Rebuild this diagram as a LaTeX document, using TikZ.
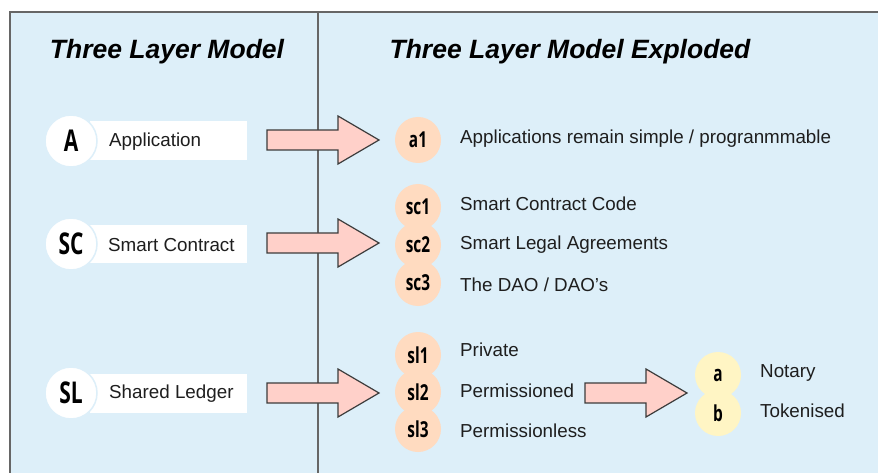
\documentclass[tikz,border=0pt]{standalone}
\usepackage{fontspec}
\setmainfont{Liberation Sans}
\newfontfamily\condfont[FakeStretch=0.7]{Open Sans}
\definecolor{panel}{HTML}{DDEFF9}
\definecolor{framegray}{HTML}{666666}
\definecolor{peach}{HTML}{FFDBC0}
\definecolor{paleyellow}{HTML}{FFF5C4}
\definecolor{arrowfill}{HTML}{FFD0C9}
\definecolor{arrowline}{HTML}{3C3C3C}
\definecolor{txt}{HTML}{1E1E1E}
\begin{document}
\begin{tikzpicture}[x=1pt,y=-1pt,
  title/.style={font=\fontsize{26.5}{30}\selectfont\bfseries\itshape, text=black, inner sep=0},
  bigcirc/.style={circle, fill=white, draw=panel, line width=1.5pt, minimum size=52, inner sep=0,
    font=\condfont\bfseries\fontsize{30}{32}\selectfont},
  labeltext/.style={anchor=west, inner sep=0, font=\fontsize{18.8}{22}\selectfont, text=txt},
  smallcirc/.style={circle, fill=peach, minimum size=46, inner sep=0,
    font=\condfont\bfseries\fontsize{22}{24}\selectfont},
  ycirc/.style={smallcirc, fill=paleyellow},
  blockarrow/.style={fill=arrowfill, draw=arrowline, line width=1.2pt, line join=miter}
]
\useasboundingbox (0,0) rectangle (878,473);
\clip (0,0) rectangle (878,473);
\fill[white] (0,0) rectangle (878,473);
\filldraw[fill=panel, draw=framegray, line width=2pt] (10,12) rectangle (900,500);
\draw[framegray, line width=2pt] (318,12) -- (318,500);

% titles
\node[title] (t1) at (167,52) {Three Layer Model};
\node[title] (t2) at (570,52) {Three Layer Model Exploded};

% left column
\fill[white] (90,121) rectangle (247,160);
\fill[white] (90,225) rectangle (247,263);
\fill[white] (90,374) rectangle (247,413);
\node[bigcirc] (A) at (71,141) {A};
\node[bigcirc] (SC) at (71,244) {SC};
\node[bigcirc] (SL) at (71,393) {SL};
\node[labeltext] (Atext) at (109,142) {Application};
\node[labeltext] (SCtext) at (108,245) {Smart Contract};
\node[labeltext] (SLtext) at (109,394) {Shared Ledger};

% right column circles
\node[smallcirc] (a1) at (418,140) {a1};
\node[smallcirc] (sc1) at (418,207) {sc1};
\node[smallcirc] (sc2) at (418,245) {sc2};
\node[smallcirc] (sc3) at (418,283) {sc3};
\node[smallcirc] (sl1) at (418,355) {sl1};
\node[smallcirc] (sl2) at (418,392) {sl2};
\node[smallcirc] (sl3) at (418,429) {sl3};
\node[ycirc] (ca) at (718,375) {a};
\node[ycirc] (cb) at (718,413) {b};

% right column texts
\node[labeltext] (ta1) at (460,139) {Applications remain simple / progranmmable};
\node[labeltext] (tsc1) at (460,204) {Smart Contract Code};
\node[labeltext] (tsc2) at (460,245) {Smart Legal Agreements};
\node[labeltext] (tsc3) at (460,285) {The DAO / DAO’s};
\node[labeltext] (tsl1) at (460,350) {Private};
\node[labeltext] (tsl2) at (460,391) {Permissioned};
\node[labeltext] (tsl3) at (460,431) {Permissionless};
\node[labeltext] (tna) at (760,373) {Notary};
\node[labeltext] (ttb) at (760,411) {Tokenised};

% block arrows
\draw[blockarrow] (267,130) -- (338,130) -- (338,116) -- (379,140) -- (338,164) -- (338,150) -- (267,150) -- cycle;
\draw[blockarrow] (267,233) -- (338,233) -- (338,219) -- (379,243) -- (338,267) -- (338,253) -- (267,253) -- cycle;
\draw[blockarrow] (267,383) -- (338,383) -- (338,369) -- (379,393) -- (338,417) -- (338,403) -- (267,403) -- cycle;
\draw[blockarrow] (585,383) -- (646,383) -- (646,369) -- (687,393) -- (646,417) -- (646,403) -- (585,403) -- cycle;
\end{tikzpicture}
\end{document}
